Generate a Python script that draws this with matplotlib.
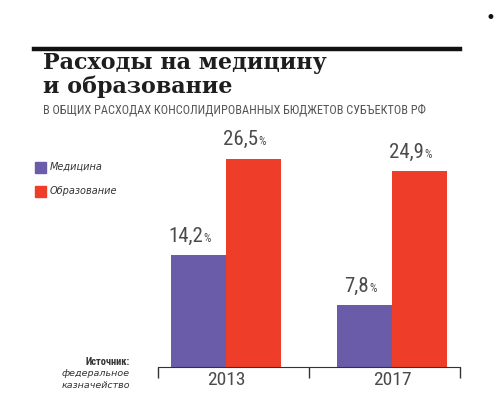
import matplotlib.pyplot as plt
import numpy as np

# данные с картинки
years = ['2013', '2017']
medicine = [14.2, 7.8]
education = [26.5, 24.9]
series_names = ['Медицина', 'Образование']

purple = '#6a5ca8'
red = '#ee3d29'
gray = '#4b4b4d'
narrow = ['Roboto Condensed', 'Liberation Sans Narrow', 'Liberation Sans', 'DejaVu Sans']

fig = plt.figure(figsize=(5, 4.09), dpi=100)

# axes: baseline at y=366.7px, x from 158 to 460px
ax = fig.add_axes([158 / 500, 1 - 366.7 / 409, 302 / 500, 230 / 409])
x = np.arange(len(years))
w = 0.33
b1 = ax.bar(x - w / 2, medicine, w, color=purple, label=series_names[0])
b2 = ax.bar(x + w / 2, education, w, color=red, label=series_names[1])
ax.set_xlim(-0.41, 1.41)
ax.set_ylim(0, 230 / 7.85)

for bars, vals in [(b1, medicine), (b2, education)]:
    for r, v in zip(bars, vals):
        cx = r.get_x() + r.get_width() / 2
        ax.annotate(f'{v:.1f}'.replace('.', ','), (cx, v), xytext=(3, 7),
                    textcoords='offset points', ha='right', va='bottom',
                    fontsize=15, color=gray, family=narrow)
        ax.annotate('%', (cx, v), xytext=(3.5, 7.5), textcoords='offset points',
                    ha='left', va='bottom', fontsize=8.5, color=gray, family=narrow)

for s in ['top', 'right', 'left']:
    ax.spines[s].set_visible(False)
ax.spines['bottom'].set_color('#333333')
ax.set_yticks([])
ax.set_xticks([-0.41, 0.5, 1.41])
ax.set_xticklabels([])
ax.tick_params(axis='x', direction='out', length=8, width=1, color='#333333')
for xi, yr in zip(x, years):
    ax.text(xi, -0.6, yr, ha='center', va='top', fontsize=14, color=gray,
            family=narrow)

# legend
for i, (name, col) in enumerate(zip(series_names, [purple, red])):
    y = 1 - (167 + i * 24) / 409
    fig.patches.append(plt.Rectangle((35 / 500, y - 5.5 / 409), 11 / 500, 11 / 409,
                                     transform=fig.transFigure, color=col))
    fig.text(50 / 500, y, name, ha='left', va='center', fontsize=7,
             style='italic', color='#333333')

# source
fig.text(130 / 500, 1 - 362 / 409, 'Источник:', ha='right', va='center',
         fontsize=7.5, weight='bold', color='#333333', family=narrow)
fig.text(130 / 500, 1 - 374 / 409, 'федеральное', ha='right', va='center',
         fontsize=6.8, style='italic', color='#333333')
fig.text(130 / 500, 1 - 386 / 409, 'казначейство', ha='right', va='center',
         fontsize=6.8, style='italic', color='#333333')

# header
fig.text(490 / 500, 1 - 18 / 409, '•', ha='center', va='center', fontsize=12, color='#111111')
fig.add_artist(plt.Line2D([34 / 500, 460 / 500], [1 - 49 / 409, 1 - 49 / 409],
                          color='#111111', lw=3.2, transform=fig.transFigure))
fig.text(43 / 500, 1 - 69 / 409, 'Расходы на медицину', ha='left', va='baseline',
         fontsize=16, weight='bold', family='DejaVu Serif', color='#1e1e1e')
fig.text(43 / 500, 1 - 93 / 409, 'и образование', ha='left', va='baseline',
         fontsize=16, weight='bold', family='DejaVu Serif', color='#1e1e1e')
fig.text(43 / 500, 1 - 110 / 409, 'В ОБЩИХ РАСХОДАХ КОНСОЛИДИРОВАННЫХ БЮДЖЕТОВ СУБЪЕКТОВ РФ',
         ha='left', va='center', fontsize=8.8, color='#555555', family=narrow)

fig.savefig('out.png', dpi=100)
